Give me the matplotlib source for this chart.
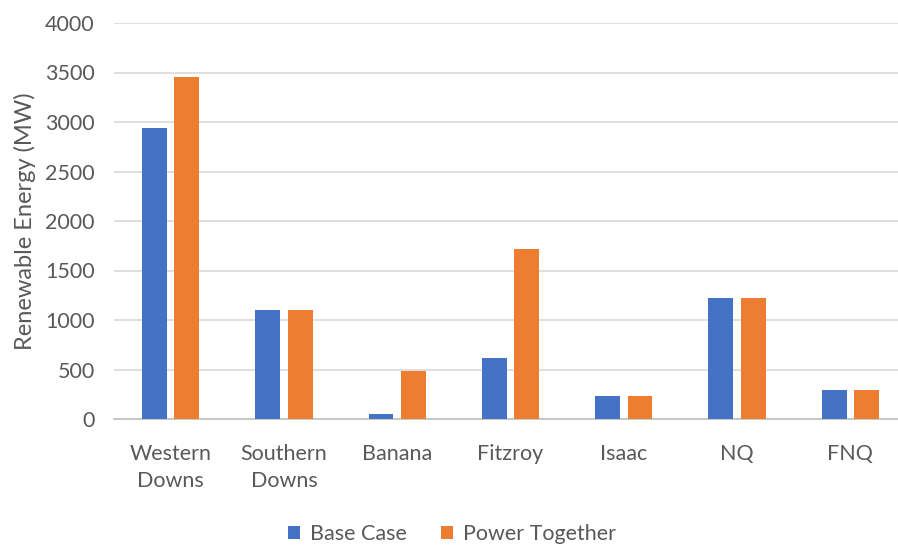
import numpy as np
import matplotlib.pyplot as plt
from matplotlib.patches import Patch

# Renewable generation by region, MW
regions = ["Western\nDowns", "Southern\nDowns", "Banana", "Fitzroy", "Isaac", "NQ", "FNQ"]
base_case = [2940, 1100, 50, 620, 235, 1220, 290]
power_together = [3450, 1100, 480, 1720, 235, 1220, 290]

BLUE = "#4472C4"
ORANGE = "#ED7D31"
TEXT = "#595959"

plt.rcParams["font.family"] = ["Lato", "DejaVu Sans"]

fig = plt.figure(figsize=(8.98, 5.47), dpi=100)
# axes runs slightly past the right edge of the canvas
ax = fig.add_axes([114 / 898, 128 / 547, 793 / 898, 396 / 547])

x = np.arange(len(regions))
width = 0.22
offset = 0.143
ax.bar(x - offset, base_case, width, color=BLUE, zorder=3)
ax.bar(x + offset, power_together, width, color=ORANGE, zorder=3)

ax.set_xlim(-0.5, len(regions) - 0.5)
ax.set_ylim(0, 4000)
ax.set_yticks(np.arange(0, 4001, 500))
ax.set_xticks(x)
ax.set_xticklabels(regions, fontsize=15.5, color=TEXT, linespacing=1.45)
ax.tick_params(axis="y", labelsize=15.5, labelcolor=TEXT, length=0, pad=14)
ax.tick_params(axis="x", length=0, pad=18)

ax.grid(axis="y", color="#D9D9D9", linewidth=1.2, zorder=0)
for side in ["top", "right", "left"]:
    ax.spines[side].set_visible(False)
ax.spines["bottom"].set_color("#BFBFBF")
ax.spines["bottom"].set_linewidth(1.2)

ax.set_ylabel("Renewable Energy (MW)", fontsize=17, color=TEXT, labelpad=6)

handles = [Patch(facecolor=BLUE, label="Base Case"),
           Patch(facecolor=ORANGE, label="Power Together")]
fig.legend(handles=handles, loc="center", bbox_to_anchor=(452 / 898, 1 - 534 / 547),
           ncol=2, frameon=False, fontsize=15.5, labelcolor=TEXT,
           handlelength=0.55, handleheight=0.55, handletextpad=0.45, columnspacing=1.6)

fig.savefig("out.png", dpi=100)
